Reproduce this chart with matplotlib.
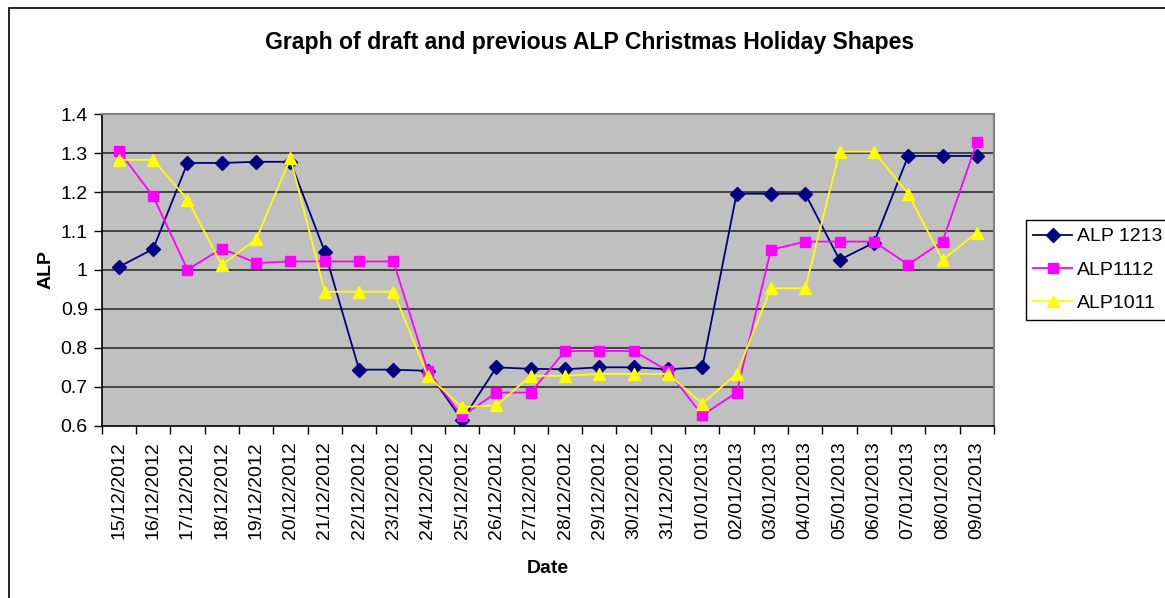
import matplotlib
matplotlib.use("Agg")
import matplotlib.pyplot as plt
from matplotlib.patches import Rectangle

dates = ["15/12/2012", "16/12/2012", "17/12/2012", "18/12/2012", "19/12/2012",
         "20/12/2012", "21/12/2012", "22/12/2012", "23/12/2012", "24/12/2012",
         "25/12/2012", "26/12/2012", "27/12/2012", "28/12/2012", "29/12/2012",
         "30/12/2012", "31/12/2012", "01/01/2013", "02/01/2013", "03/01/2013",
         "04/01/2013", "05/01/2013", "06/01/2013", "07/01/2013", "08/01/2013",
         "09/01/2013"]

alp1213 = [1.008, 1.054, 1.275, 1.275, 1.278, 1.278, 1.047, 0.744, 0.744, 0.741,
           0.614, 0.750, 0.746, 0.745, 0.750, 0.750, 0.745, 0.750, 1.196, 1.196,
           1.196, 1.026, 1.070, 1.293, 1.293, 1.293]
alp1112 = [1.306, 1.189, 1.001, 1.055, 1.018, 1.022, 1.022, 1.022, 1.022, 0.741,
           0.624, 0.685, 0.685, 0.792, 0.792, 0.792, 0.741, 0.627, 0.685, 1.052,
           1.073, 1.073, 1.073, 1.014, 1.073, 1.328]
alp1011 = [1.283, 1.283, 1.181, 1.013, 1.079, 1.287, 0.944, 0.944, 0.944, 0.728,
           0.648, 0.652, 0.728, 0.728, 0.733, 0.733, 0.733, 0.657, 0.733, 0.953,
           0.953, 1.304, 1.304, 1.196, 1.026, 1.096]

series = [("ALP 1213", alp1213, "#000080", "D", 7),
          ("ALP1112", alp1112, "#FF00FF", "s", 6.5),
          ("ALP1011", alp1011, "#FFFF00", "^", 8.5)]

yticks = [0.6, 0.7, 0.8, 0.9, 1.0, 1.1, 1.2, 1.3, 1.4]
ytick_labels = ["0.6", "0.7", "0.8", "0.9", "1", "1.1", "1.2", "1.3", "1.4"]

plt.rcParams['font.family'] = ['Liberation Sans', 'DejaVu Sans']

W, H = 1165, 598
fig = plt.figure(figsize=(W / 100, H / 100), dpi=100)
fig.patch.set_facecolor("white")

# chart area border (left and top visible)
fig.add_artist(Rectangle((8.7 / W, -0.1), 1.2, 1.1 - 8 / H, transform=fig.transFigure,
                         fill=False, edgecolor="black", linewidth=1.2))

ax = fig.add_axes([101.7 / W, 1 - 425.7 / H, (994 - 101.7) / W, (425.7 - 114.3) / H])
ax.set_facecolor("#C0C0C0")

x = list(range(len(dates)))
for name, vals, color, marker, ms in series:
    ax.plot(x, vals, color=color, marker=marker, markersize=ms, linewidth=1.3,
            markeredgecolor=color, label=name, zorder=3)

ax.set_xlim(-0.5, len(dates) - 0.5)
ax.set_ylim(0.6, 1.4)
ax.set_yticks(yticks)
ax.set_yticklabels(ytick_labels, fontsize=14)
ax.set_xticks(x)
ax.set_xticklabels(dates, rotation=90, fontsize=14)
ax.tick_params(axis="x", length=0, pad=11)
ax.set_xticks([i - 0.5 for i in range(len(dates) + 1)], minor=True)
ax.tick_params(axis="x", which="minor", length=6, width=1, color="black", direction="out")
ax.tick_params(axis="y", length=6, width=1, color="black", direction="out", pad=4)

for yv in yticks[1:-1]:
    ax.axhline(yv, color="#202020", linewidth=1.1, zorder=1)

for side in ["top", "right"]:
    ax.spines[side].set_color("#808080")
    ax.spines[side].set_linewidth(1.5)
for side in ["left", "bottom"]:
    ax.spines[side].set_color("black")
    ax.spines[side].set_linewidth(1.2)

ax.set_ylabel("ALP", fontsize=14, fontweight="bold", labelpad=4)
ax.set_xlabel("Date", fontsize=14, fontweight="bold", labelpad=15)

fig.text(590 / W, 1 - 43 / H, "Graph of draft and previous ALP Christmas Holiday Shapes",
         ha="center", va="center", fontsize=16.6, fontweight="bold")

leg = fig.legend(loc="upper left", bbox_to_anchor=(1025.7 / W, 1 - 220 / H),
                 fontsize=14, frameon=True, fancybox=False, edgecolor="black",
                 framealpha=1, borderpad=0.4, labelspacing=0.8, handlelength=2.0,
                 handletextpad=0.25, borderaxespad=0)
leg.get_frame().set_linewidth(1.0)

fig.savefig("out.png", dpi=100)
